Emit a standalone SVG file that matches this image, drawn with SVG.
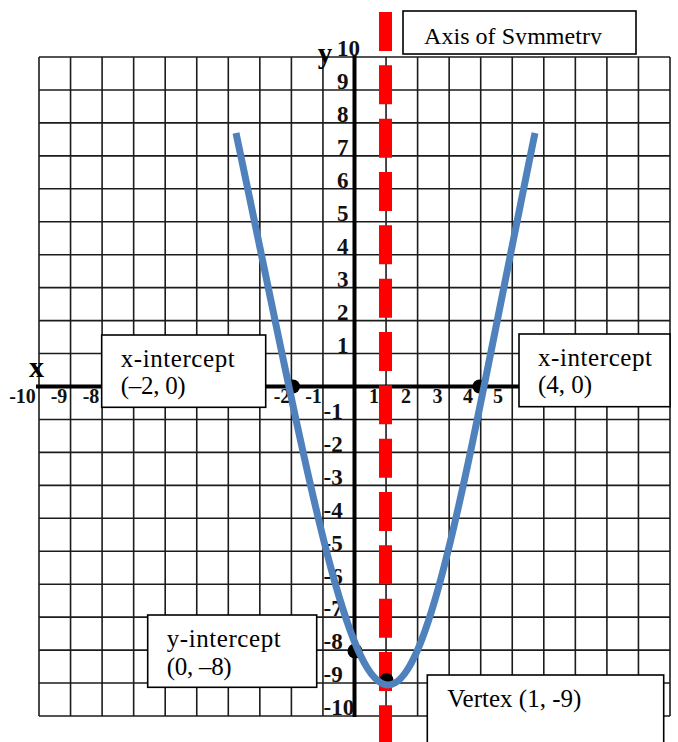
<svg xmlns="http://www.w3.org/2000/svg" width="678" height="742" viewBox="0 0 678 742">
<style>
.grid{stroke:#1c1c1c;stroke-width:1.6;fill:none}
.axis{stroke:#000;stroke-width:4;fill:none}
.tick{font-family:"Liberation Serif","Times New Roman",serif;font-weight:bold;fill:#111}
.ty{font-size:23px}
.tx{font-size:20px;text-anchor:middle}
.alab{font-family:"Liberation Serif","Times New Roman",serif;font-weight:bold;fill:#000;text-anchor:middle}
.box{fill:#fff;stroke:#000;stroke-width:1.6}
.btxt{font-family:"Liberation Serif","Times New Roman",serif;font-size:25px;fill:#000}
.dot{fill:#000}
.curve{fill:none;stroke:#4F81BD;stroke-width:7;stroke-linecap:butt;stroke-linejoin:round}
.sym{stroke:#FF0000;stroke-width:13;stroke-dasharray:39 14.33;fill:none}
</style>
<defs>
<clipPath id="clipAxis"><rect x="404" y="12" width="231" height="32.5"/></clipPath>
</defs>
<rect width="678" height="742" fill="#fff"/>
<g id="grid">
<path class="grid" d="M39,57V716M70.55,57V716M102.1,57V716M133.65,57V716M165.2,57V716M196.75,57V716M228.3,57V716M259.85,57V716M291.4,57V716M322.95,57V716M386.05,57V716M417.6,57V716M449.15,57V716M480.7,57V716M512.25,57V716M543.8,57V716M575.35,57V716M606.9,57V716M638.45,57V716M670,57V716
M39,57H670M39,89.95H670M39,122.9H670M39,155.85H670M39,188.8H670M39,221.75H670M39,254.7H670M39,287.65H670M39,320.6H670M39,353.55H670M39,419.45H670M39,452.4H670M39,485.35H670M39,518.3H670M39,551.25H670M39,584.2H670M39,617.15H670M39,650.1H670M39,683.05H670M39,716H670"/>
</g>
<g id="axes">
<path class="axis" d="M354.5,55V717M36,386.5H670"/>
<text class="alab" x="36.5" y="377" font-size="30">x</text>
<text class="alab" x="325" y="63" font-size="29">y</text>
</g>
<g id="y-ticks" class="tick ty">
<text x="337" y="56">10</text>
<text x="337" y="89">9</text>
<text x="337" y="122">8</text>
<text x="337" y="155">7</text>
<text x="337" y="188">6</text>
<text x="337" y="221">5</text>
<text x="337" y="254">4</text>
<text x="337" y="287">3</text>
<text x="337" y="320">2</text>
<text x="337" y="352.5">1</text>
<text x="323.5" y="418.5">-1</text>
<text x="323.5" y="451.5">-2</text>
<text x="323.5" y="484.5">-3</text>
<text x="323.5" y="517.5">-4</text>
<text x="323.5" y="550.5">-5</text>
<text x="323.5" y="583.5">-6</text>
<text x="323.5" y="616">-7</text>
<text x="323.5" y="649">-8</text>
<text x="323.5" y="682">-9</text>
<text x="323.5" y="715">-10</text>
</g>
<g id="x-ticks" class="tick tx">
<text x="22.5" y="403">-10</text>
<text x="59" y="403">-9</text>
<text x="91" y="403">-8</text>
<text x="282" y="403">-2</text>
<text x="313.5" y="403">-1</text>
<text x="374" y="403">1</text>
<text x="406" y="403">2</text>
<text x="437.5" y="403">3</text>
<text x="468" y="403">4</text>
<text x="498" y="403">5</text>
</g>
<g id="axis-of-symmetry-line">
<path class="sym" d="M385.5,12V742"/>
</g>
<g id="points">
<circle class="dot" cx="293" cy="386.5" r="7"/>
<circle class="dot" cx="479.5" cy="386.5" r="7"/>
<circle class="dot" cx="355" cy="651" r="7.5"/>
<circle class="dot" cx="386.5" cy="680" r="7"/>
</g>
<g id="parabola">
<path class="curve" d="M236,133C303,450 344,685 388,685C432,685 470,450 535,133"/>
</g>
<g id="label-axis-of-symmetry">
<rect class="box" x="403" y="11" width="233" height="43"/>
<text class="btxt" x="424" y="43.5" font-size="24" style="font-size:24px" textLength="178" clip-path="url(#clipAxis)">Axis of Symmetry</text>
</g>
<g id="label-x-intercept-left">
<rect class="box" x="101.7" y="335" width="164" height="72.3"/>
<text class="btxt" x="120.7" y="366.5" textLength="114">x-intercept</text>
<text class="btxt" x="120.7" y="393.5" textLength="65">(–2, 0)</text>
</g>
<g id="label-x-intercept-right">
<rect class="box" x="519" y="334" width="151" height="72.7"/>
<text class="btxt" x="538" y="365.5" textLength="114">x-intercept</text>
<text class="btxt" x="538" y="392.5">(4, 0)</text>
</g>
<g id="label-y-intercept">
<rect class="box" x="147.7" y="615" width="169" height="72.3"/>
<text class="btxt" x="166.7" y="646.5" textLength="114">y-intercept</text>
<text class="btxt" x="166.7" y="675" textLength="65">(0, –8)</text>
</g>
<g id="label-vertex">
<rect class="box" x="427.3" y="675" width="236.4" height="80"/>
<text class="btxt" x="447.3" y="706.5" textLength="134">Vertex (1, -9)</text>
</g>
</svg>
